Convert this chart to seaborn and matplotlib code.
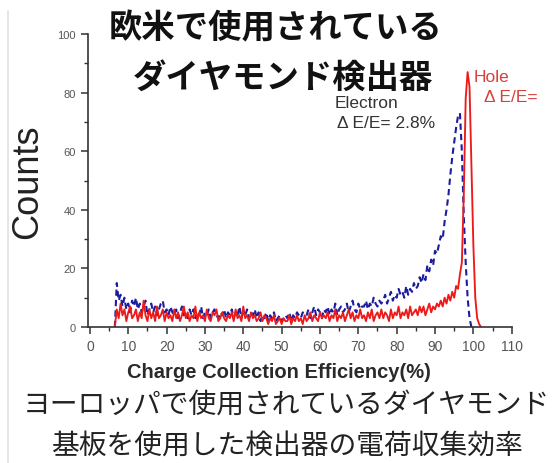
import numpy as np
import pandas as pd
import matplotlib
matplotlib.use("Agg")
import matplotlib.pyplot as plt
from matplotlib.lines import Line2D
from matplotlib.ticker import MultipleLocator
import seaborn as sns

# ---- data ----
efficiency = np.arange(6.5, 102.01, 0.5)  # channel centres (%)

hole_counts = [
    0, 6, 3, 8, 4, 6, 2, 5, 7, 3,
    4, 6, 2, 5, 3, 9, 4, 2, 6, 3,
    5, 2, 7, 3, 4, 6, 2, 5, 3, 4,
    2, 6, 3, 5, 2, 4, 7, 3, 5, 2,
    4, 3, 7, 2, 5, 3, 4, 2, 6, 3,
    2, 5, 4, 6, 2, 3, 5, 3, 2, 4,
    3, 5, 2, 6, 3, 4, 2, 7, 3, 4,
    2, 5, 3, 4, 2, 3, 5, 2, 4, 3,
    1, 3, 2, 4, 1, 2, 3, 1, 3, 2,
    2, 4, 1, 3, 2, 4, 2, 3, 1, 4,
    2, 3, 5, 2, 4, 3, 2, 5, 3, 4,
    3, 5, 2, 4, 3, 6, 2, 4, 3, 5,
    2, 4, 6, 3, 5, 2, 4, 3, 6, 3,
    4, 2, 5, 3, 6, 2, 4, 5, 3, 6,
    3, 5, 4, 2, 6, 3, 5, 4, 7, 3,
    5, 4, 6, 3, 7, 4, 5, 6, 4, 7,
    5, 7, 4, 6, 8, 5, 7, 6, 8, 7,
    9, 7, 10, 8, 11, 9, 12, 10, 14, 13,
    18, 22, 45, 78, 87, 82, 55, 28, 10, 3,
    1, 0,
]

electron_counts = [
    0, 15, 9, 11, 7, 10, 6, 8, 5, 9,
    7, 10, 6, 8, 5, 7, 9, 4, 6, 8,
    5, 7, 4, 6, 8, 9, 5, 6, 4, 7,
    5, 4, 6, 3, 5, 7, 4, 5, 3, 6,
    4, 6, 3, 5, 4, 7, 3, 5, 4, 6,
    3, 5, 6, 4, 3, 5, 4, 6, 3, 5,
    4, 6, 3, 5, 4, 7, 3, 5, 4, 6,
    3, 5, 4, 6, 3, 5, 2, 4, 3, 5,
    2, 4, 3, 5, 2, 3, 4, 2, 3, 4,
    3, 5, 2, 4, 3, 5, 4, 3, 5, 4,
    4, 6, 3, 5, 7, 4, 6, 5, 3, 6,
    5, 7, 4, 6, 5, 8, 4, 6, 7, 5,
    6, 8, 5, 7, 9, 6, 5, 8, 6, 7,
    7, 9, 6, 8, 7, 10, 8, 7, 9, 8,
    9, 11, 8, 10, 12, 9, 11, 10, 13, 11,
    12, 10, 14, 11, 13, 12, 15, 13, 14, 17,
    15, 18, 16, 21, 19, 23, 21, 26, 25, 28,
    31, 30, 36, 40, 45, 52, 58, 63, 68, 72,
    73, 60, 38, 22, 10, 3, 0, np.nan, np.nan, np.nan,
    np.nan, np.nan,
]

x_ticks = [0, 10, 20, 30, 40, 50, 60, 70, 80, 90, 100, 110]
y_ticks = [0, 20, 40, 60, 80, 100]

title_lines = ["欧米で使用されている", "ダイヤモンド検出器"]
caption_lines = ["ヨーロッパで使用されているダイヤモンド", "基板を使用した検出器の電荷収集効率"]
electron_label = ["Electron", "Δ E/E= 2.8%"]
hole_label = ["Hole", "Δ E/E="]

df = pd.DataFrame({"eff": efficiency, "hole": hole_counts, "electron": electron_counts})

# ---- style ----
sns.set_style("ticks")
plt.rcParams["font.family"] = ["Liberation Sans", "Noto Sans CJK JP", "DejaVu Sans"]
CJK = ["Noto Sans CJK JP", "DejaVu Sans"]

W, H = 555, 464
fig = plt.figure(figsize=(W / 100, H / 100), dpi=100)
ax = fig.add_axes([88 / W, 1 - 328 / H, (511.7 - 88) / W, (328 - 35) / H])

blue = "#1c1c9e"
red = "#ee1a1a"

sns.lineplot(data=df.dropna(subset=["electron"]), x="eff", y="electron", color=blue,
             linewidth=1.5, linestyle=(0, (3, 2)), ax=ax)
sns.lineplot(data=df, x="eff", y="hole", color=red, linewidth=1.35, ax=ax)

ax.set_xlim(-0.5, 110)
ax.set_ylim(0, 100)
ax.set_xticks(x_ticks)
ax.set_yticks(y_ticks)
ax.xaxis.set_minor_locator(MultipleLocator(5))
ax.yaxis.set_minor_locator(MultipleLocator(10))
for s in ["top", "right"]:
    ax.spines[s].set_visible(False)
for s in ["left", "bottom"]:
    ax.spines[s].set_color("#333333")
    ax.spines[s].set_linewidth(1.2)
ax.tick_params(axis="both", which="major", direction="out", length=5, width=1.1,
               color="#333333", labelcolor="#555555", pad=4)
ax.tick_params(axis="both", which="minor", direction="out", length=3, width=1.0, color="#333333")
ax.tick_params(axis="x", labelsize=10)
ax.tick_params(axis="y", labelsize=8)
ax.set_xlabel("")
ax.set_ylabel("")

# axis labels
fig.text(279 / W, 1 - 373 / H, "Charge Collection Efficiency(%)", ha="center", va="center",
         fontsize=14.5, fontweight="bold", color="#2a2a2a")
fig.text(28 / W, 1 - 182 / H, "Counts", ha="center", va="center", rotation=90,
         fontsize=26, color="#222222")

# titles
fig.text(276 / W, 1 - 29 / H, title_lines[0], ha="center", va="center", fontsize=24,
         fontweight="bold", family=CJK, color="#111111")
fig.text(283 / W, 1 - 78 / H, title_lines[1], ha="center", va="center", fontsize=24,
         fontweight="bold", family=CJK, color="#111111")

# captions
fig.text(286 / W, 1 - 405 / H, caption_lines[0], ha="center", va="center", fontsize=20,
         family=CJK, color="#222222")
fig.text(287 / W, 1 - 447 / H, caption_lines[1], ha="center", va="center", fontsize=20,
         family=CJK, color="#222222")

# annotations
fig.text(335 / W, 1 - 104 / H, electron_label[0], ha="left", va="center", fontsize=12.5,
         color="#333333")
fig.text(337 / W, 1 - 123 / H, electron_label[1], ha="left", va="center", fontsize=12.5,
         color="#333333")
fig.text(474 / W, 1 - 77 / H, hole_label[0], ha="left", va="center", fontsize=12.5,
         color="#d8403c")
fig.text(484 / W, 1 - 97 / H, hole_label[1], ha="left", va="center", fontsize=12.5,
         color="#d8403c")

# faint screenshot border
fig.add_artist(Line2D([8 / W, 8 / W], [0, 1 - 12 / H], color="#e2e2e2", lw=1.2))

fig.savefig("out.png", dpi=100)
